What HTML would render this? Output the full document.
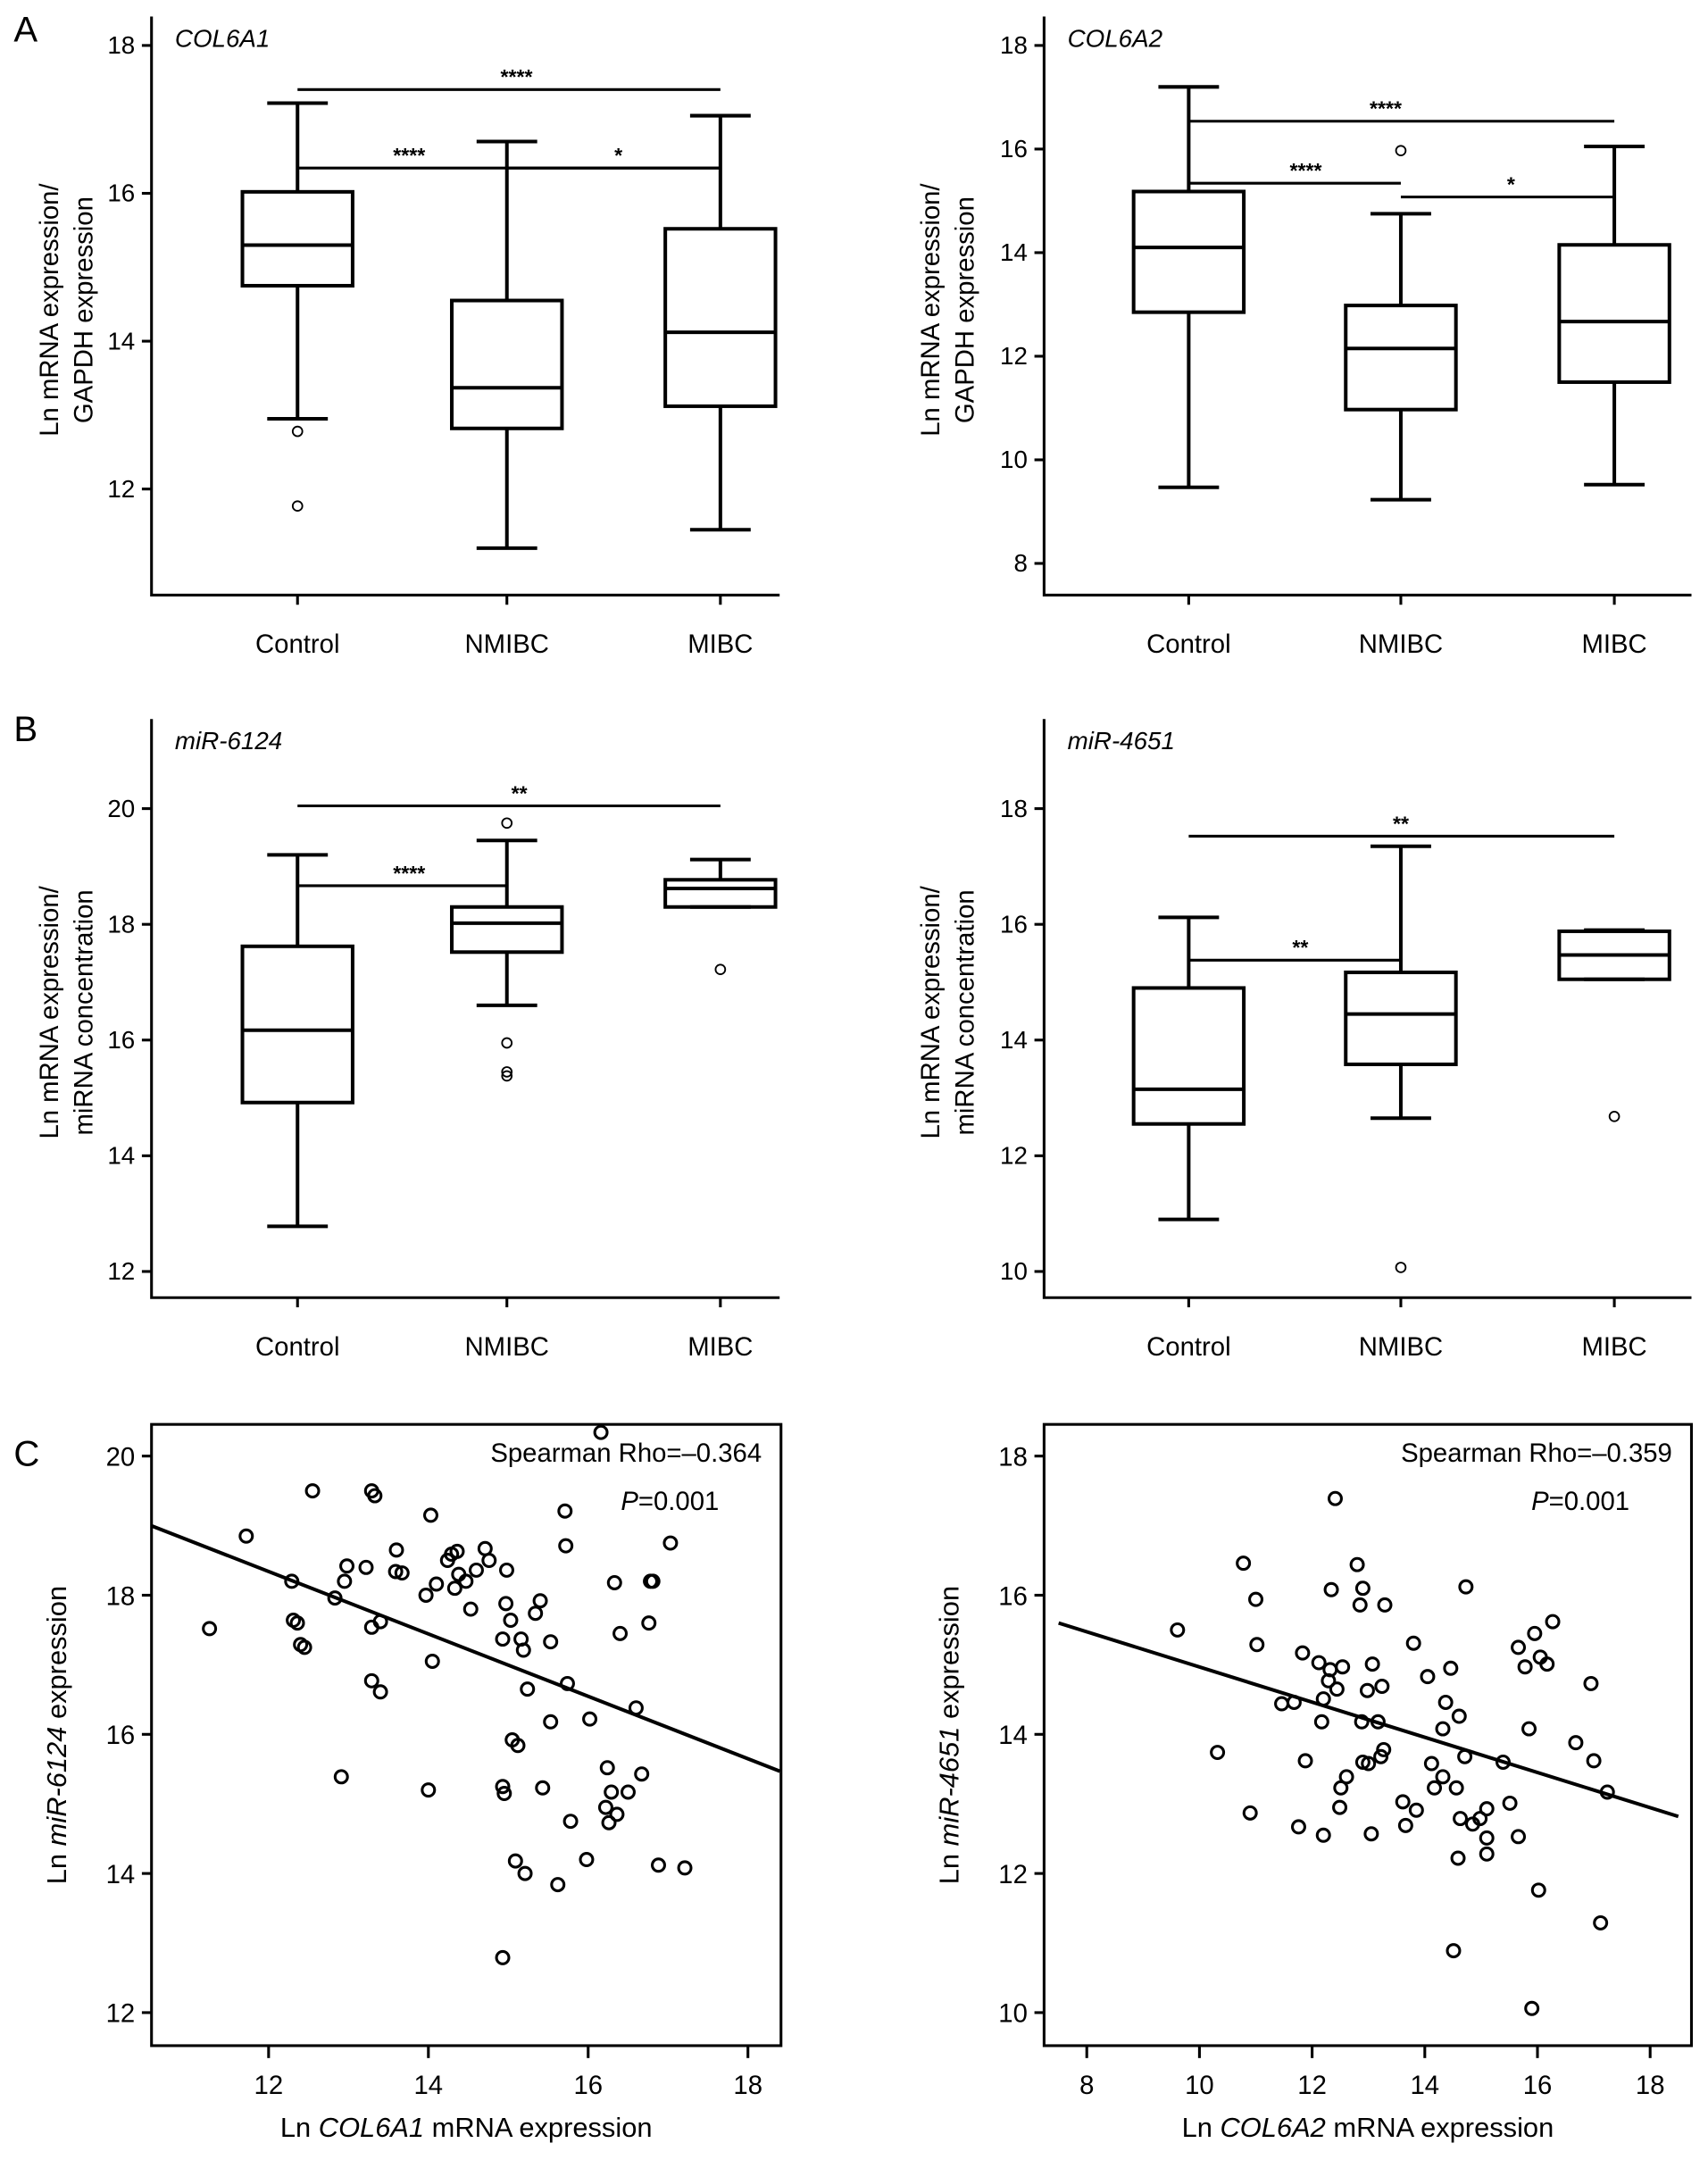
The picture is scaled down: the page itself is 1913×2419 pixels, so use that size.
<!DOCTYPE html>
<html><head><meta charset="utf-8"><style>
html,body{margin:0;padding:0;background:#fff}
svg{display:block;font-family:"Liberation Sans",Arial,sans-serif}
</style></head><body>
<svg id="fig" xmlns="http://www.w3.org/2000/svg" width="1913" height="2419" viewBox="0 0 1240 1568">
<text x="10" y="30" font-size="26">A</text>
<text x="10" y="538" font-size="26">B</text>
<text x="10" y="1064" font-size="26">C</text>
</svg>
<script>
// ---------- data ----------
const categories = ["Control","NMIBC","MIBC"];
// box stats: [whiskerLow, q1, median, q3, whiskerHigh]
const col6a1Boxes = [[12.95,14.75,15.3,16.02,17.22],[11.2,12.82,13.37,14.55,16.7],[11.45,13.12,14.12,15.52,17.05]];
const col6a1Outliers = [[12.78,11.77],[],[]];
const col6a2Boxes = [[9.47,12.85,14.1,15.18,17.2],[9.23,10.97,12.15,12.98,14.75],[9.52,11.5,12.67,14.15,16.05]];
const col6a2Outliers = [[],[15.97],[]];
const mir6124Boxes = [[12.78,14.92,16.17,17.62,19.2],[16.6,17.52,18.02,18.3,19.45],[18.3,18.3,18.62,18.77,19.12]];
const mir6124Outliers = [[],[19.75,15.95,15.45,15.38],[17.22]];
const mir4651Boxes = [[10.9,12.55,13.15,14.9,16.12],[12.65,13.58,14.45,15.17,17.35],[15.05,15.05,15.47,15.88,15.9]];
const mir4651Outliers = [[],[10.07],[12.68]];
const ticksA1 = [12,14,16,18], ticksA2 = [8,10,12,14,16,18], ticksB1 = [12,14,16,18,20], ticksB2 = [10,12,14,16,18];
const scatter1X = [11.26,11.72,12.55,12.29,12.31,12.36,12.40,12.45,12.83,12.95,12.98,13.22,13.29,13.33,13.29,13.40,13.29,13.40,12.91,13.60,13.59,13.67,14.03,14.05,13.97,14.10,14.24,14.29,14.33,14.36,14.38,14.47,14.53,14.60,14.71,14.76,14.97,14.98,14.93,15.03,15.16,15.19,15.24,15.34,15.40,15.53,15.71,15.72,15.74,15.53,15.05,15.12,14.93,14.95,15.43,15.09,15.21,15.62,14.93,15.78,16.02,15.98,16.16,16.33,16.40,16.24,16.29,16.22,16.36,16.26,16.50,16.60,16.67,16.76,16.78,16.81,17.03,16.88,17.21,14.0];
const scatter1Y = [17.52,18.85,19.50,18.20,17.64,17.60,17.29,17.25,17.96,18.20,18.42,18.40,19.50,19.43,17.54,17.62,16.77,16.61,15.39,18.65,18.34,18.32,19.15,17.05,18.00,18.16,18.50,18.59,18.10,18.63,18.30,18.20,17.80,18.36,18.67,18.50,17.88,18.36,17.37,17.64,17.37,17.21,16.65,17.74,17.92,17.33,19.21,18.71,16.73,16.18,15.92,15.84,15.25,15.15,15.23,14.18,14.0,13.84,12.79,14.75,16.22,14.20,20.34,18.18,17.45,15.52,15.17,14.95,14.85,14.73,15.17,16.38,15.43,17.60,18.20,18.20,18.75,14.12,14.08,15.2];
const scatter2X = [9.61,10.32,10.78,11.0,11.02,10.90,11.46,11.68,11.76,11.83,11.88,12.12,12.20,12.17,12.20,12.29,12.32,12.34,12.41,12.44,12.51,12.49,12.61,12.54,12.80,12.85,12.90,12.88,12.90,12.98,13.05,13.00,13.07,13.17,13.22,13.27,13.24,13.29,13.61,13.66,13.80,13.85,14.05,14.12,14.17,14.32,14.32,14.37,14.46,14.56,14.63,14.73,14.61,14.71,14.51,14.59,14.85,14.98,15.10,15.10,15.10,15.39,15.51,15.66,15.66,15.78,15.85,15.90,15.95,16.05,16.02,16.17,16.27,16.68,16.95,17.00,17.12,17.24];
const scatter2Y = [15.50,13.74,16.46,15.94,15.29,12.87,14.44,14.46,12.67,15.17,13.62,15.03,12.55,14.18,14.51,14.77,14.93,16.08,17.39,14.65,13.23,12.95,13.39,14.97,16.44,15.86,16.10,14.18,13.60,14.63,12.57,13.58,15.01,14.18,13.68,13.78,14.69,15.86,13.03,12.69,15.31,12.91,14.83,13.58,13.23,14.08,13.39,14.46,14.95,13.23,12.79,16.12,14.26,13.68,10.89,12.22,12.71,12.79,12.93,12.51,12.28,13.60,13.01,12.53,15.25,14.97,14.08,10.06,15.45,15.11,11.76,15.01,15.62,13.88,14.73,13.62,11.29,13.17];
const fit1 = [[10.53,19.0],[18.4,15.47]];
const fit2 = [[7.5,15.6],[18.5,12.82]];

// ---------- helpers ----------
const svg = document.getElementById('fig');
const NS = 'http://www.w3.org/2000/svg';
function mk(tag, attrs, parent){const e=document.createElementNS(NS,tag);for(const k in attrs)e.setAttribute(k,attrs[k]);(parent||svg).appendChild(e);return e;}
function txt(x,y,s,size,anchor,parent,extra){const t=mk('text',Object.assign({x:x,y:y,'font-size':size,'text-anchor':anchor||'middle'},extra||{}),parent);t.innerHTML=s;return t;}
function lin(v0,p0,v1,p1){return v=>p0+(v-v0)*(p1-p0)/(v1-v0);}

function boxPanel(cfg){
  const g=mk('g',{});
  
  
  const y=lin(cfg.t0[0],cfg.t0[1],cfg.t1[0],cfg.t1[1]);
  const xs=cfg.xs;
  const ax=mk('path',{d:`M${cfg.ax} ${cfg.top} V${cfg.bot} H${cfg.right}`,stroke:'#000','stroke-width':2,fill:'none'},g);
  
  
  cfg.ticks.forEach(v=>{
    mk('line',{x1:cfg.ax-7,x2:cfg.ax,y1:y(v),y2:y(v),stroke:'#000','stroke-width':2},g);
    const t=txt(cfg.ax-12,y(v)+6,v,18,'end',g);
    
    
  });
  categories.forEach((c,i)=>{
    mk('line',{x1:xs[i],x2:xs[i],y1:cfg.bot,y2:cfg.bot+7,stroke:'#000','stroke-width':2},g);
    const t=txt(xs[i],cfg.bot+42,c,19,'middle',g);
    
    
    const b=cfg.boxes[i], w=40, cap=22;
    const bg=mk('g',{stroke:'#000','stroke-width':2.6,fill:'none'},g);
    
    
    mk('line',{x1:xs[i],x2:xs[i],y1:y(b[0]),y2:y(b[1])},bg);
    mk('line',{x1:xs[i],x2:xs[i],y1:y(b[3]),y2:y(b[4])},bg);
    mk('line',{x1:xs[i]-cap,x2:xs[i]+cap,y1:y(b[0]),y2:y(b[0])},bg);
    mk('line',{x1:xs[i]-cap,x2:xs[i]+cap,y1:y(b[4]),y2:y(b[4])},bg);
    mk('rect',{x:xs[i]-w,y:y(b[3]),width:2*w,height:y(b[1])-y(b[3])},bg);
    mk('line',{x1:xs[i]-w,x2:xs[i]+w,y1:y(b[2]),y2:y(b[2])},bg);
    cfg.outliers[i].forEach(o=>{
      const c2=mk('circle',{cx:xs[i],cy:y(o),r:3.5,stroke:'#000','stroke-width':1.2,fill:'none'},g);
      
      
    });
  });
  cfg.sig.forEach(s=>{
    mk('line',{x1:xs[s[0]],x2:xs[s[1]],y1:s[2],y2:s[2],stroke:'#000','stroke-width':2},g);
    const t=txt(s[3],s[2]-4,s[4],15,'middle',g,{'font-weight':'bold'});
    
    
  });
  const ti=txt(cfg.ax+17,cfg.top+22,cfg.title,18,'start',g,{'font-style':'italic'});
  
  
  const yl=mk('text',{transform:`translate(${cfg.ylx},${cfg.yly}) rotate(-90)`,'font-size':19,'text-anchor':'middle'},g);
  
  
  yl.innerHTML=`<tspan x="0" y="0">${cfg.yl[0]}</tspan><tspan x="0" y="25">${cfg.yl[1]}</tspan>`;
}

boxPanel({name:'panel-a-col6a1',t0:[18,33],t1:[12,355],xs:[216,368,523],ax:110,top:12,bot:432,right:566,ticks:ticksA1,boxes:col6a1Boxes,outliers:col6a1Outliers,title:'COL6A1',
  sig:[[0,2,65,375,'****'],[0,2,122,297,'****'],[1,2,122,449,'*']],ylx:42,yly:225,yl:['Ln mRNA expression/','GAPDH expression']});
boxPanel({name:'panel-a-col6a2',t0:[18,33],t1:[8,409],xs:[863,1017,1172],ax:758,top:12,bot:432,right:1228,ticks:ticksA2,boxes:col6a2Boxes,outliers:col6a2Outliers,title:'COL6A2',
  sig:[[0,2,88,1006,'****'],[0,1,133,948,'****'],[1,2,143,1097,'*']],ylx:682,yly:225,yl:['Ln mRNA expression/','GAPDH expression']});
boxPanel({name:'panel-b-mir6124',t0:[20,587],t1:[12,923],xs:[216,368,523],ax:110,top:522,bot:942,right:566,ticks:ticksB1,boxes:mir6124Boxes,outliers:mir6124Outliers,title:'miR-6124',
  sig:[[0,2,585,377,'**'],[0,1,643,297,'****']],ylx:42,yly:735,yl:['Ln mRNA expression/','miRNA concentration']});
boxPanel({name:'panel-b-mir4651',t0:[18,587],t1:[10,923],xs:[863,1017,1172],ax:758,top:522,bot:942,right:1228,ticks:ticksB2,boxes:mir4651Boxes,outliers:mir4651Outliers,title:'miR-4651',
  sig:[[0,2,607,1017,'**'],[0,1,697,944,'**']],ylx:682,yly:735,yl:['Ln mRNA expression/','miRNA concentration']});

function scatterPanel(cfg){
  const g=mk('g',{});
  
  
  const x=lin(cfg.xt0[0],cfg.xt0[1],cfg.xt1[0],cfg.xt1[1]);
  const y=lin(cfg.yt0[0],cfg.yt0[1],cfg.yt1[0],cfg.yt1[1]);
  const fr=mk('rect',{x:cfg.L,y:cfg.T,width:cfg.R-cfg.L,height:cfg.B-cfg.T,stroke:'#000','stroke-width':2,fill:'none'},g);
  
  
  cfg.yt.forEach(v=>{
    mk('line',{x1:cfg.L-7,x2:cfg.L,y1:y(v),y2:y(v),stroke:'#000','stroke-width':2},g);
    const t=txt(cfg.L-12,y(v)+7,v,19,'end',g);
    
    
  });
  cfg.xt.forEach(v=>{
    mk('line',{x1:x(v),x2:x(v),y1:cfg.B,y2:cfg.B+9,stroke:'#000','stroke-width':2},g);
    const t=txt(x(v),cfg.B+35,v,19,'middle',g);
    
    
  });
  cfg.xs.forEach((v,i)=>{
    const c=mk('circle',{cx:x(v),cy:y(cfg.ys[i]),r:4.5,stroke:'#000','stroke-width':2,fill:'none'},g);
    
    
  });
  const fl=mk('line',{x1:x(cfg.fit[0][0]),y1:y(cfg.fit[0][1]),x2:x(cfg.fit[1][0]),y2:y(cfg.fit[1][1]),stroke:'#000','stroke-width':2.6},g);
  
  
  const s1=txt(cfg.R-14,cfg.T+27,cfg.rho,19,'end',g);
  
  
  const s2=txt(cfg.R-45,cfg.T+62,'<tspan font-style="italic">P</tspan>=0.001',19,'end',g);
  
  
  const xl=txt((cfg.L+cfg.R)/2,cfg.B+66,cfg.xl,20,'middle',g);
  
  
  const yl=mk('text',{transform:`translate(${cfg.L-62},${(cfg.T+cfg.B)/2}) rotate(-90)`,'font-size':20,'text-anchor':'middle'},g);
  
  
  yl.innerHTML=cfg.yl;
}
scatterPanel({name:'panel-c-left',L:110,R:567,T:1034,B:1485,xt0:[12,195],xt1:[18,543],yt0:[20,1057],yt1:[12,1461],xt:[12,14,16,18],yt:[12,14,16,18,20],
  xs:scatter1X,ys:scatter1Y,fit:fit1,rho:'Spearman Rho=\u20130.364',xl:'Ln <tspan font-style="italic">COL6A1</tspan> mRNA expression',yl:'Ln <tspan font-style="italic">miR-6124</tspan> expression'});
scatterPanel({name:'panel-c-right',L:758,R:1228,T:1034,B:1485,xt0:[8,789],xt1:[18,1198],yt0:[18,1057],yt1:[10,1461],xt:[8,10,12,14,16,18],yt:[10,12,14,16,18],
  xs:scatter2X,ys:scatter2Y,fit:fit2,rho:'Spearman Rho=\u20130.359',xl:'Ln <tspan font-style="italic">COL6A2</tspan> mRNA expression',yl:'Ln <tspan font-style="italic">miR-4651</tspan> expression'});
</script>
</body></html>
